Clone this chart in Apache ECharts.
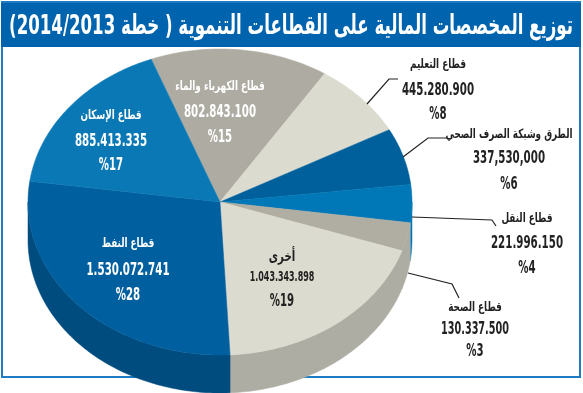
<!DOCTYPE html>
<html>
<head>
<meta charset="utf-8">
<style>
  html, body { margin: 0; padding: 0; background: #fff; }
  #chart { width: 583px; height: 393px; }
</style>
<script src="https://cdn.jsdelivr.net/npm/echarts@6/dist/echarts.min.js"></script>
</head>
<body>
<div id="chart" dir="rtl"></div>
<script>
// البيانات
const titleText = 'توزيع المخصصات المالية على القطاعات التنموية ( خطة 2014/2013)';
const sectors = ['قطاع الكهرباء والماء', 'قطاع التعليم', 'الطرق وشبكة الصرف الصحي', 'قطاع النقل', 'قطاع الصحة', 'أخرى', 'قطاع النفط', 'قطاع الإسكان'];
const amounts = ['802.843.100', '445.280.900', '337,530,000', '221.996.150', '130.337.500', '1.043.343.898', '1.530.072.741', '885.413.335'];
const percents = [15, 8, 6, 4, 3, 19, 28, 17];

// الألوان
const topColors = ['#aeaca2', '#dcdbcf', '#00609c', '#0077b6', '#b0aea3', '#dcdbcf', '#005f9e', '#0a78b5'];
const wallColors = ['#8f8e85', '#b5b4aa', '#004c7f', '#0077b6', '#aeada4', '#aeada4', '#004c7f', '#005f9e'];
const textColors = ['#fff', '#222', '#222', '#222', '#222', '#222', '#fff', '#fff'];

// مواضع النصوص: [x, y الاسم, y الرقم, y النسبة]
const labelPos = [
    [220, 87, 112, 138],
    [438, 65, 90, 115],
    [509, 135, 158, 185],
    [527, 219, 243, 269],
    [475, 308, 330, 352],
    [282, 257, 277, 302],
    [128, 244, 270, 296],
    [111, 116, 141, 166]
];
const amountFont = [18, 18, 18, 18, 17, 14, 18, 18];
const nameFont = [13, 13, 13, 13, 13, 15, 13, 13];

// الخطوط الواصلة
const leaders = [
    [[367, 104], [389, 79], [398, 79]],
    [[403, 157], [428, 138], [447, 138]],
    [[412, 217], [492, 220], [496, 226]],
    [[408, 273], [452, 284], [459, 298]]
];

// هندسة القرص
const cx = 220, cy = 202, rx = 192, ry = 153, depth = 38;
const startAngle = -21; // درجة، مع عقارب الساعة من الأعلى
const total = percents.reduce((a, b) => a + b, 0);

function arcPoints(a0, a1, dy) {
    const pts = [];
    const n = Math.max(2, Math.ceil(Math.abs(a1 - a0)));
    for (let i = 0; i <= n; i++) {
        const t = (a0 + (a1 - a0) * i / n) * Math.PI / 180;
        pts.push([cx + rx * Math.sin(t), cy - ry * Math.cos(t) + dy]);
    }
    return pts;
}

function sliceAngles(idx) {
    let sum = 0;
    for (let i = 0; i < idx; i++) sum += percents[i];
    const a0 = startAngle + sum / total * 360;
    return [a0, a0 + percents[idx] / total * 360];
}

// جدار القرص (النصف السفلي فقط)
function renderWall(params, api) {
    const i = params.dataIndex;
    const ang = sliceAngles(i);
    const a0 = Math.max(ang[0], 90), a1 = Math.min(ang[1], 270);
    if (a1 <= a0) return null;
    const top = arcPoints(a0, a1, 0);
    const bottom = arcPoints(a1, a0, depth);
    return {
        type: 'polygon',
        shape: { points: top.concat(bottom) },
        style: { fill: wallColors[i], stroke: wallColors[i], lineWidth: 0.5 }
    };
}

// سطح القرص
function renderTop(params, api) {
    const i = params.dataIndex;
    const ang = sliceAngles(i);
    return {
        type: 'polygon',
        shape: { points: [[cx, cy]].concat(arcPoints(ang[0], ang[1], 0)) },
        style: { fill: topColors[i], stroke: topColors[i], lineWidth: 0.5 }
    };
}

const fontFamily = '"DejaVu Sans", sans-serif';

// النص أضيق من الخط المتوفر، لذلك نضغطه أفقيا
function textEl(text, x, y, size, color, squeeze) {
    return {
        type: 'text', x: x, y: y, z: 10, scaleX: squeeze,
        style: {
            text: text, fill: color, align: 'center', verticalAlign: 'middle',
            fontFamily: fontFamily, fontWeight: 'bold', fontSize: size
        }
    };
}

const graphics = [
    // الإطار
    { type: 'rect', z: -10, shape: { x: 2, y: 2, width: 578, height: 375 }, style: { fill: '#fff', stroke: '#1f7cc2', lineWidth: 2 } },
    // شريط العنوان
    { type: 'rect', z: -9, shape: { x: 1, y: 3, width: 580, height: 44 }, style: { fill: '#0063ad' } },
    textEl(titleText, 291, 27, 27, '#fff', 0.615)
];
sectors.forEach((name, i) => {
    const p = labelPos[i];
    graphics.push(textEl(name, p[0], p[1], nameFont[i], textColors[i], 0.68));
    graphics.push(textEl(amounts[i], p[0], p[2], amountFont[i], textColors[i], 0.57));
    graphics.push(textEl('%' + percents[i], p[0], p[3], 17, textColors[i], 0.6));
});
leaders.forEach(pts => {
    graphics.push({ type: 'polyline', z: 5, shape: { points: pts }, style: { fill: 'none', stroke: '#222', lineWidth: 1.2 } });
});

const chart = echarts.init(document.getElementById('chart'), null, { renderer: 'canvas' });
chart.setOption({
    animation: false,
    graphic: { elements: graphics },
    series: [
        { type: 'custom', coordinateSystem: 'none', z: 1, silent: true, renderItem: renderWall, data: percents },
        { type: 'custom', coordinateSystem: 'none', z: 2, silent: true, renderItem: renderTop, data: percents }
    ]
});
</script>
</body>
</html>
